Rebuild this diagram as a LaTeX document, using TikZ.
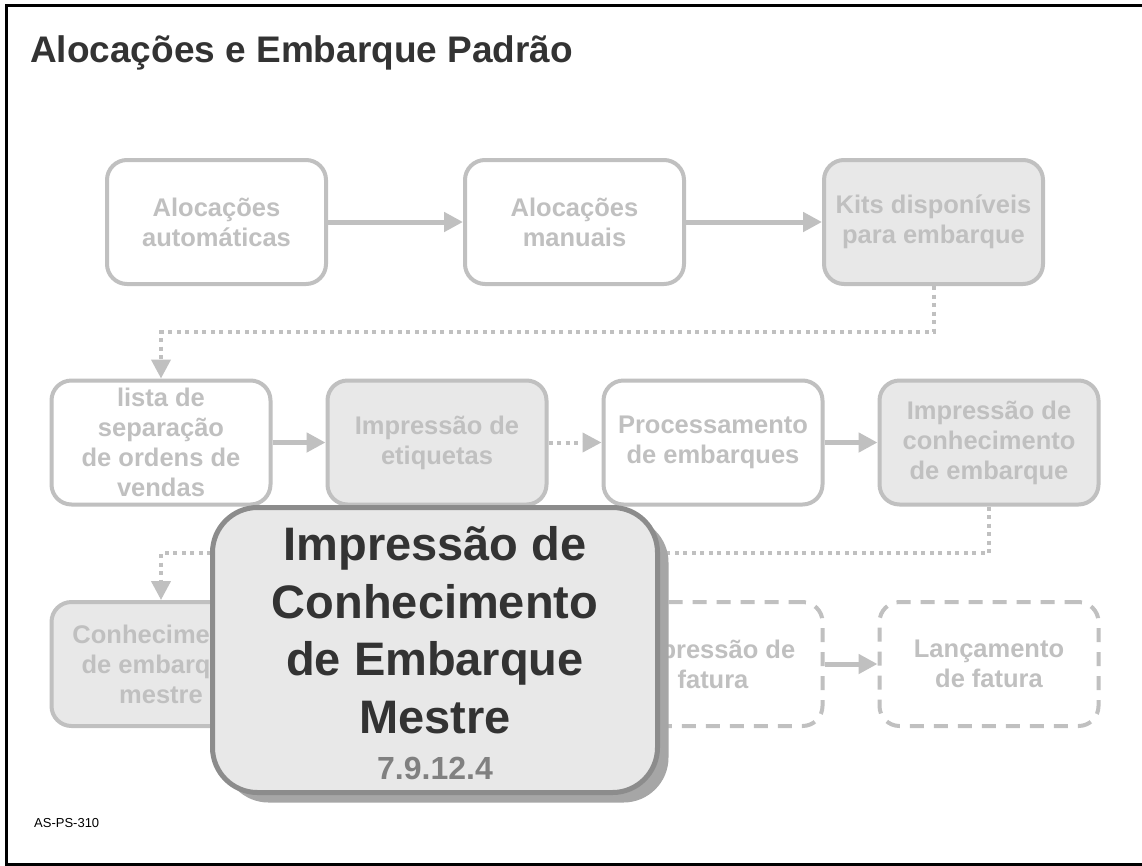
\documentclass[tikz,border=0pt]{standalone}
\usepackage{fontspec}
\setmainfont{Liberation Sans}
\usetikzlibrary{arrows.meta,shadows}
\definecolor{lg}{HTML}{C0C0C0}
\definecolor{lf}{HTML}{E8E8E8}
\definecolor{bigborder}{HTML}{8C8C8C}
\definecolor{bigshadow}{HTML}{A6A6A6}
\definecolor{dark}{HTML}{333333}
\definecolor{numgray}{HTML}{808080}
\begin{document}
\begin{tikzpicture}[x=1pt,y=-1pt,
  proc/.style={draw=lg, line width=4pt, rounded corners=20pt, minimum width=219pt,
    minimum height=124pt, inner sep=2pt, align=center, text=lg,
    font=\bfseries\fontsize{25.5}{30}\selectfont},
  procfill/.style={proc, fill=lf},
  procdash/.style={proc, fill=white, dash pattern=on 14pt off 10pt},
  flow/.style={draw=lg, line width=5pt, -{Triangle[length=19pt,width=19pt]}},
  dotflow/.style={flow, line width=4pt, dash pattern=on 4pt off 4.5pt},
  bigbox/.style={draw=bigborder, fill=lf, line width=5pt, rounded corners=45pt,
    minimum width=445pt, minimum height=285pt,
    drop shadow={shadow xshift=11pt, shadow yshift=-10pt, fill=bigshadow, opacity=1}},
  bigtext/.style={align=center, text=dark, inner sep=0pt,
    font=\bfseries\fontsize{47}{57.5}\selectfont},
  titlestyle/.style={anchor=base west, inner sep=0pt, text=dark,
    font=\bfseries\fontsize{37}{40}\selectfont},
  codestyle/.style={anchor=base west, inner sep=0pt, text=black,
    font=\fontsize{13}{15}\selectfont}]
\useasboundingbox (0,0) rectangle (1142,865);
\fill[white] (0,0) rectangle (1142,865);
\draw[line width=3pt] (1142,5.5) -- (6,5.5) -- (6,864) -- (1142,864);

\node[titlestyle] (title) at (30,62) {Alocações e Embarque Padrão};
\node[codestyle] (code) at (34,827) {AS-PS-310};

% row 1
\node[proc] (A) at (216.5,222) {Alocações\\automáticas};
\node[proc] (B) at (574.5,222) {Alocações\\manuais};
\node[procfill] (C) at (933.5,222) {Kits disponíveis\\para embarque};
% row 2
\node[proc] (D) at (161,442.5) {lista de\\separação\\de ordens de\\vendas};
\node[procfill] (E) at (437,442.5) {Impressão de\\etiquetas};
\node[proc] (F) at (713,442.5) {Processamento\\de embarques};
\node[procfill] (G) at (989,442.5) {Impressão de\\conhecimento\\de embarque};
% row 3
\node[procfill] (H) at (161,664) {Conhecimento\\de embarque\\mestre};
\node[procdash] (I) at (713,664) {Impressão de\\fatura};
\node[procdash] (J) at (989,664) {Lançamento\\de fatura};

\coordinate (k1) at (933.5,332);
\coordinate (k2) at (989,553);

\draw[flow] (A) -- (B);
\draw[flow] (B) -- (C);
\draw[dotflow] (C.south) -- (C.south |- k1) -| (D.north);
\draw[flow] (D) -- (E);
\draw[dotflow] (E) -- (F);
\draw[flow] (F) -- (G);
\draw[dotflow] (G.south) -- (G.south |- k2) -| (H.north);
\draw[flow] (I) -- (J);

% highlighted box
\node[bigbox] (main) at (435,650) {};
\node[bigtext] (maintext) at (435,653.5) {Impressão de\\Conhecimento\\de Embarque\\Mestre\\[-11pt]{\color{numgray}\fontsize{32}{32}\selectfont 7.9.12.4}};
\end{tikzpicture}
\end{document}
